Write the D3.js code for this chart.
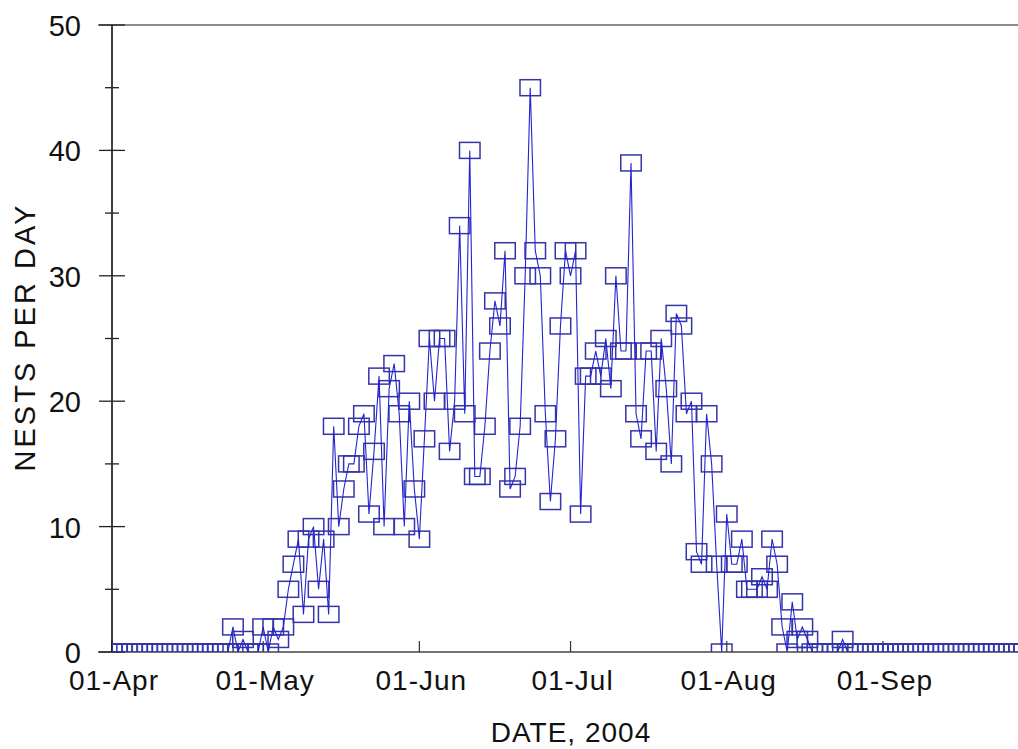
<!DOCTYPE html>
<html>
<head>
<meta charset="utf-8">
<script src="https://cdn.jsdelivr.net/npm/d3@7"></script>
<style>
  body { margin: 0; background: #fff; }
  text { font-family: Arial, "Liberation Sans", sans-serif; fill: #111; }
</style>
</head>
<body>
<div id="viz"></div>
<script>
// daily nest counts, 01-Apr-2004 onwards (one value per day)
var startDay = new Date(2004, 3, 1);
var nests = [
  0,0,0,0,0,0,0,0,0,0, 0,0,0,0,0,0,0,0,0,0, 0,0,0,0,          // 01-24 Apr
  2,0,1,0,0,0,                                               // 25-30 Apr
  2,0,2,1,2,5,7,9,3,9, 10,5,9,3,18,10,13,15,15,18,           // 01-20 May
  19,11,16,22,10,21,23,19,10,20, 13,                         // 21-31 May
  9,17,25,20,25,25,16,20,34,19, 40,14,14,18,24,28,26,32,13,14, // 01-20 Jun
  18,30,45,32,30,19,12,17,26,32,                             // 21-30 Jun
  30,32,11,22,22,24,22,25,21,30, 24,24,39,19,17,24,24,16,25,21, // 01-20 Jul
  15,27,26,19,20,8,7,19,15,7, 0,                             // 21-31 Jul
  11,7,7,9,5,5,5,6,5,9, 7,2,0,4,1,2,1,0,0,0,                 // 01-20 Aug
  0,0,0,1,0,0,0,0,0,0, 0,                                    // 21-31 Aug
  0,0,0,0,0,0,0,0,0,0, 0,0,0,0,0,0,0,0,0,0, 0,0,0,0,0,0,0,0,0,0 // Sep
];
var monthTicks = ["2004-04-01","2004-05-01","2004-06-01","2004-07-01","2004-08-01","2004-09-01"];
var yMajor = [0,10,20,30,40,50];
var yMinor = [5,15,25,35,45];

var data = nests.map(function(v, i){ return {date: d3.timeDay.offset(startDay, i), value: v}; });

var W = 1018, H = 749;
var svg = d3.select("#viz").append("svg").attr("width", W).attr("height", H)
    .style("background", "#fff");

var x = d3.scaleTime().domain([startDay, new Date(2004, 8, 28)]).range([112, 1019]);
var y = d3.scaleLinear().domain([0, 50]).range([652, 25]);

svg.append("clipPath").attr("id", "plot").append("rect")
    .attr("x", 112).attr("y", 25).attr("width", W - 112).attr("height", 652 - 25);

// frame lines (top and bottom)
svg.append("line").attr("x1", 98).attr("x2", W).attr("y1", y(50)).attr("y2", y(50))
    .attr("stroke", "#666").attr("stroke-width", 1.5);
svg.append("line").attr("x1", 98).attr("x2", W).attr("y1", y(0)).attr("y2", y(0))
    .attr("stroke", "#444").attr("stroke-width", 1.5);

// x axis ticks (pointing up) and labels
var parse = d3.timeParse("%Y-%m-%d");
var fmt = d3.timeFormat("%d-%b");
var xt = svg.append("g");
monthTicks.forEach(function(s){
  var d = parse(s);
  xt.append("line").attr("x1", x(d)).attr("x2", x(d)).attr("y1", 641).attr("y2", 652)
    .attr("stroke", "#333").attr("stroke-width", 1.2);
  xt.append("text").attr("x", x(d) + 2).attr("y", 690).attr("text-anchor", "middle")
    .style("font-size", "28px").style("letter-spacing", "1px").text(fmt(d));
});

// y axis
var ya = svg.append("g");
ya.append("line").attr("x1", 112).attr("x2", 112).attr("y1", y(50)).attr("y2", y(0))
    .attr("stroke", "#000").attr("stroke-width", 1.5);
yMajor.forEach(function(v){
  ya.append("line").attr("x1", 99).attr("x2", 125).attr("y1", y(v)).attr("y2", y(v))
    .attr("stroke", "#222").attr("stroke-width", 1.3);
  ya.append("text").attr("x", 81).attr("y", y(v)).attr("dy", "0.38em").attr("text-anchor", "end")
    .style("font-size", "29px").text(v);
});
yMinor.forEach(function(v){
  ya.append("line").attr("x1", 105).attr("x2", 119).attr("y1", y(v)).attr("y2", y(v))
    .attr("stroke", "#222").attr("stroke-width", 1.3);
});

// axis titles
svg.append("text").attr("x", 571).attr("y", 742).attr("text-anchor", "middle")
    .style("font-size", "28px").style("letter-spacing", "1px").text("DATE, 2004");
svg.append("text").attr("transform", "translate(35,337) rotate(-90)").attr("text-anchor", "middle")
    .style("font-size", "29px").style("letter-spacing", "3px").text("NESTS PER DAY");

// series
var plot = svg.append("g").attr("clip-path", "url(#plot)");
var bw = 20.5, bh = 16;
plot.selectAll("rect.m").data(data).enter().append("rect").attr("class", "m")
    .attr("x", function(d){ return x(d.date) - bw / 2; })
    .attr("y", function(d){ return y(d.value) - bh / 2; })
    .attr("width", bw).attr("height", bh)
    .attr("fill", "none").attr("stroke", "#3535aa").attr("stroke-width", 1.5);

plot.append("path").datum(data)
    .attr("d", d3.line().x(function(d){ return x(d.date); }).y(function(d){ return y(d.value); }))
    .attr("fill", "none").attr("stroke", "#2424d0").attr("stroke-width", 1.1);
</script>
</body>
</html>
